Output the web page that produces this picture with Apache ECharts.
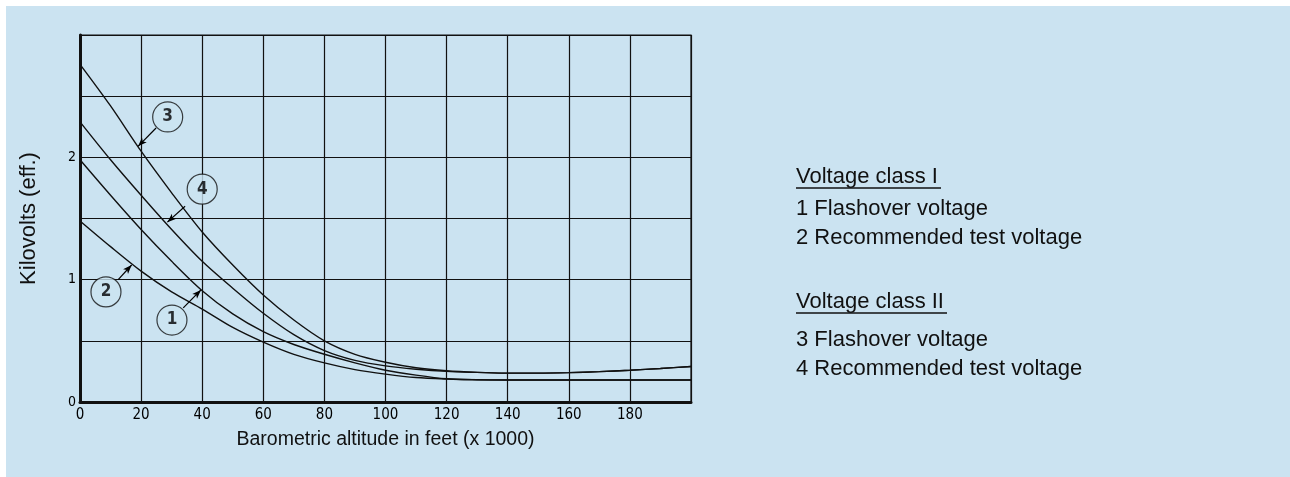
<!DOCTYPE html>
<html>
<head>
<meta charset="utf-8">
<script src="https://cdn.jsdelivr.net/npm/echarts@6/dist/echarts.min.js"></script>
<style>
html,body{margin:0;padding:0;background:#ffffff;}
#bg{position:absolute;left:6px;top:6px;width:1284px;height:471px;background:#cbe3f1;}
#chart{position:absolute;left:0;top:0;width:1290px;height:477px;}
</style>
</head>
<body>
<div id="bg"></div>
<div id="chart"></div>
<script>
// Altitude (x 1000 ft)
const altitude = [0,10,20,30,40,50,60,70,80,90,100,110,120,130,140,150,160,170,180,190,200];
// Kilovolts (eff.) per curve
const curve1 = [1.98,1.69,1.41,1.15,0.91,0.72,0.575,0.47,0.39,0.32,0.26,0.22,0.19,0.182,0.18,0.18,0.18,0.18,0.18,0.18,0.18];
const curve2 = [1.48,1.27,1.07,0.90,0.76,0.61,0.49,0.39,0.32,0.265,0.228,0.20,0.188,0.182,0.18,0.18,0.18,0.18,0.18,0.18,0.18];
const curve3 = [2.76,2.42,2.05,1.71,1.39,1.12,0.875,0.67,0.50,0.39,0.325,0.28,0.255,0.242,0.236,0.236,0.24,0.248,0.26,0.274,0.29];
const curve4 = [2.29,1.98,1.69,1.41,1.15,0.93,0.725,0.55,0.42,0.34,0.295,0.268,0.25,0.242,0.236,0.236,0.24,0.248,0.26,0.274,0.29];
const xTicks = ['0','20','40','60','80','100','120','140','160','180'];
const yTicks = ['0','1','2'];
const curveNames = ['1','2','3','4'];
// callout circles: [x, y, label] and pointer [fromX, fromY, toX, toY]
const callouts = [[30.1,0.67,'1'],[8.5,0.90,'2'],[28.7,2.33,'3'],[40.0,1.74,'4']];
const pointers = [[33.8,0.77,39.6,0.916],[12.5,1.0,16.9,1.12],[24.9,2.24,19.0,2.09],[34.4,1.60,28.6,1.47]];
const legendLines = [
  {text:'Voltage class I', head:true},
  {text:'1 Flashover voltage'},
  {text:'2 Recommended test voltage'},
  {text:'Voltage class II', head:true},
  {text:'3 Flashover voltage'},
  {text:'4 Recommended test voltage'}
];

const BG = '#cbe3f1';
const INK = '#111111';
const curves = [curve1, curve2, curve3, curve4];
const chart = echarts.init(document.getElementById('chart'), null, {renderer:'canvas'});

const series = curves.map((c, i) => ({
  name: curveNames[i],
  type: 'line',
  data: altitude.map((x, j) => [x, c[j]]),
  smooth: 0.3,
  showSymbol: false,
  symbol: 'none',
  lineStyle: {color: INK, width: 1.4},
  silent: true,
  z: 3
}));

series.push({
  type: 'scatter',
  data: callouts.map(c => [c[0], c[1], c[2]]),
  symbol: 'circle',
  symbolSize: 30,
  itemStyle: {color: BG, borderColor: INK, borderWidth: 1.2},
  label: {show: true, position: 'inside', formatter: p => p.value[2], color: '#000', fontSize: 17, fontWeight: 'bold', fontFamily: 'DejaVu Sans Condensed, DejaVu Sans, sans-serif'},
  silent: true,
  z: 5,
  markLine: {
    silent: true,
    symbol: ['none', 'arrow'],
    symbolSize: [5, 9],
    label: {show: false},
    lineStyle: {color: '#000', width: 1.2, type: 'solid'},
    data: pointers.map(p => [{coord: [p[0], p[1]]}, {coord: [p[2], p[3]]}])
  }
});

const legendY = [183, 215, 244, 308, 346, 375];
const graphics = [];
legendLines.forEach((l, i) => {
  graphics.push({
    type: 'text', left: 796, top: legendY[i] - 17,
    style: {text: l.text, fill: INK, font: '22px "Liberation Sans", Arial, sans-serif'}
  });
  if (l.head) {
    graphics.push({
      type: 'line', shape: {x1: 796, y1: legendY[i] + 5, x2: 796 + (l.text === 'Voltage class I' ? 145 : 151), y2: legendY[i] + 5},
      style: {stroke: INK, lineWidth: 1.5}
    });
  }
});

chart.setOption({
  animation: false,
  backgroundColor: 'transparent',
  grid: {left: 80, right: 599, top: 35, bottom: 75, show: true, borderColor: INK, borderWidth: 1.2, backgroundColor: 'transparent'},
  xAxis: {
    type: 'value', min: 0, max: 200, interval: 20,
    name: 'Barometric altitude in feet (x 1000)',
    nameLocation: 'middle', nameGap: 28,
    nameTextStyle: {fontSize: 19.5, color: INK, fontFamily: '"Liberation Sans", Arial, sans-serif'},
    axisLine: {show: true, onZero: false, lineStyle: {color: INK, width: 3}},
    axisTick: {show: false},
    axisLabel: {
      color: '#000', fontSize: 15, margin: 6,
      fontFamily: 'DejaVu Sans Condensed, DejaVu Sans, sans-serif',
      formatter: v => { const s = String(v); return xTicks.includes(s) ? s : ''; }
    },
    splitLine: {show: true, lineStyle: {color: INK, width: 1.2}}
  },
  yAxis: {
    type: 'value', min: 0, max: 3, interval: 0.5,
    name: 'Kilovolts (eff.)',
    nameLocation: 'middle', nameGap: 40, nameRotate: 90,
    nameTextStyle: {fontSize: 22, color: INK, fontFamily: '"Liberation Sans", Arial, sans-serif'},
    axisLine: {show: true, onZero: false, lineStyle: {color: INK, width: 3}},
    axisTick: {show: false},
    axisLabel: {
      color: '#000', fontSize: 14, margin: 4,
      fontFamily: 'DejaVu Sans Condensed, DejaVu Sans, sans-serif',
      formatter: v => { const s = String(v); return yTicks.includes(s) ? s : ''; }
    },
    splitLine: {show: true, lineStyle: {color: INK, width: 1.2}}
  },
  series: series,
  graphic: graphics
});
</script>
</body>
</html>
